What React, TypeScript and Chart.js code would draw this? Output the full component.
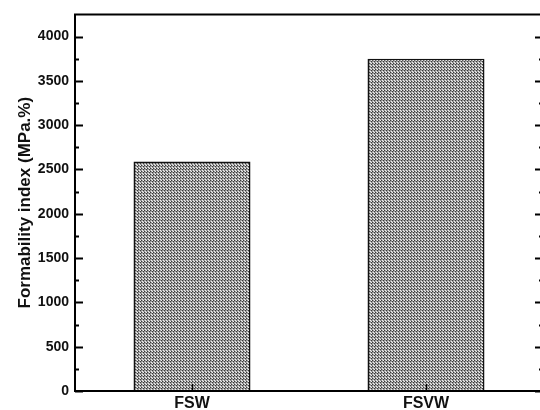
import React, { useEffect, useRef } from "react";
import { Chart, registerables } from "chart.js";

Chart.register(...registerables);

const categories = ["FSW", "FSVW"];
const formability = [2590, 3750];
const yMax = 4250;
const yStep = 250;
const yLabelStep = 500;
const yTitle = "Formability index (MPa.%)";

function makePattern(): CanvasPattern | string {
  const c = document.createElement("canvas");
  c.width = 3;
  c.height = 3;
  const g = c.getContext("2d");
  if (!g) return "#999";
  g.fillStyle = "#9a9a9a";
  g.fillRect(0, 0, 3, 3);
  g.fillStyle = "#3a3a3a";
  g.fillRect(0, 0, 1, 1);
  g.fillRect(2, 1, 1, 1);
  g.fillStyle = "#f0f0f0";
  g.fillRect(1, 2, 1, 1);
  g.fillRect(2, 0, 1, 1);
  const p = g.createPattern(c, "repeat");
  return p || "#999";
}

const framePlugin = {
  id: "frame",
  afterDatasetsDraw(chart: any) {
    const { ctx, chartArea } = chart;
    const { left, right, top, bottom } = chartArea;
    const y = chart.scales.y;
    const x = chart.scales.x;
    ctx.save();
    ctx.strokeStyle = "#000";
    ctx.lineCap = "butt";
    ctx.lineWidth = 2;
    ctx.beginPath();
    ctx.moveTo(left, top);
    ctx.lineTo(right, top);
    ctx.moveTo(right, top);
    ctx.lineTo(right, bottom);
    ctx.moveTo(left - 1, bottom);
    ctx.lineTo(right + 1, bottom);
    ctx.moveTo(left, top - 1);
    ctx.lineTo(left, bottom + 1);
    ctx.stroke();
    y.ticks.forEach((t: any) => {
      if (t.value > 4000) return;
      const py = Math.round(y.getPixelForValue(t.value)) + 0.5;
      const major = t.value % yLabelStep === 0;
      const len = major ? 8 : 4;
      ctx.lineWidth = 2;
      ctx.beginPath();
      ctx.moveTo(left, py);
      ctx.lineTo(left + len, py);
      ctx.moveTo(right, py);
      ctx.lineTo(right - len, py);
      ctx.stroke();
    });
    x.ticks.forEach((_t: any, i: number) => {
      const px = Math.round(x.getPixelForTick(i)) + 0.5;
      ctx.lineWidth = 1.5;
      ctx.beginPath();
      ctx.moveTo(px, bottom);
      ctx.lineTo(px, bottom - 7);
      ctx.stroke();
    });
    ctx.restore();
  },
};

export default function App() {
  const ref = useRef<HTMLCanvasElement | null>(null);
  useEffect(() => {
    if (!ref.current) return;
    const pattern = makePattern();
    const chart = new Chart(ref.current, {
      type: "bar",
      data: {
        labels: categories,
        datasets: [
          {
            data: formability,
            backgroundColor: pattern as any,
            borderColor: "#111",
            borderWidth: 1.5,
            barPercentage: 0.5,
            categoryPercentage: 1,
          },
        ],
      },
      options: {
        animation: false,
        responsive: false,
        maintainAspectRatio: false,
        events: [],
        layout: { padding: { top: 13, right: 17, left: 0, bottom: 0 } },
        plugins: { legend: { display: false }, tooltip: { enabled: false } },
        scales: {
          x: {
            grid: { display: false, drawTicks: false },
            border: { display: false },
            ticks: {
              color: "#111",
              font: { family: "Arial, 'Liberation Sans', sans-serif", size: 16, weight: "bold" },
              padding: 3,
              maxRotation: 0,
            },
            afterFit: (s: any) => {
              s.height = 19;
            },
          },
          y: {
            min: 0,
            max: yMax,
            grid: { display: false, drawTicks: false },
            border: { display: false },
            ticks: {
              stepSize: yStep,
              color: "#111",
              padding: 6,
              font: { family: "Arial, 'Liberation Sans', sans-serif", size: 14, weight: "bold" },
              callback: (v: any) => (Number(v) % yLabelStep === 0 && Number(v) <= 4000 ? String(v) : ""),
            },
            title: {
              display: true,
              text: yTitle,
              color: "#111",
              font: { family: "Arial, 'Liberation Sans', sans-serif", size: 17, weight: "bold" },
              padding: { top: 15, bottom: 0 },
            },
            afterFit: (s: any) => {
              s.width = 75;
            },
          },
        },
      },
      plugins: [framePlugin],
    });
    return () => chart.destroy();
  }, []);
  return (
    <div
      style={{
        position: "fixed",
        left: 0,
        top: 0,
        width: 540,
        height: 410,
        overflow: "hidden",
        background: "#fff",
      }}
    >
      <canvas ref={ref} width={560} height={410} style={{ display: "block", width: 560, height: 410 }} />
    </div>
  );
}
